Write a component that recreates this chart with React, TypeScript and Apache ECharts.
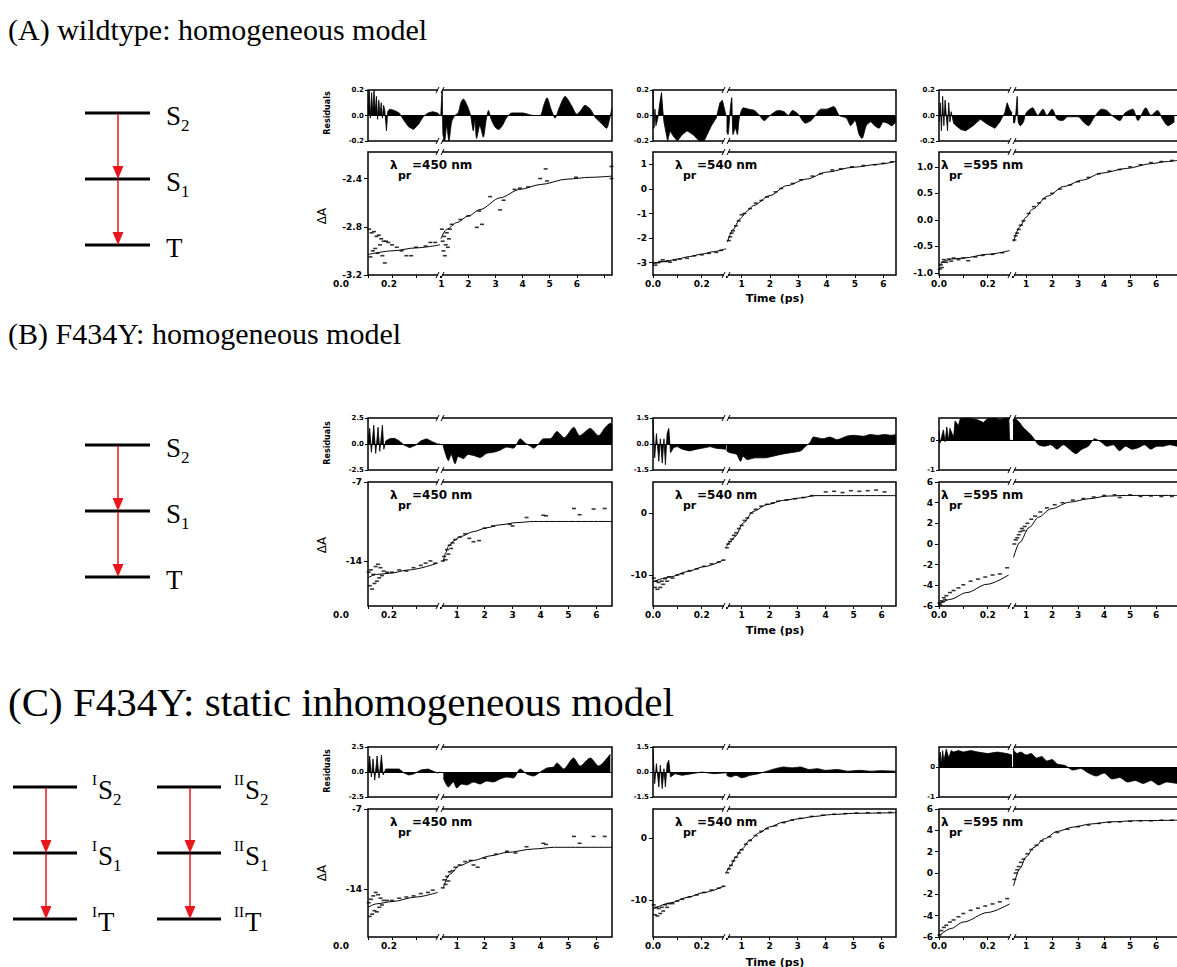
import React, { useEffect, useRef } from "react";
import * as echarts from "echarts";

// ---------------- DATA (time in ps, residuals, fits, measured points) ----------------
const resA1 = [[0,0.05],[0.005,0.2],[0.01,-0.02],[0.015,0.18],[0.02,0.02],[0.025,0.2],[0.03,0.03],[0.035,0.15],[0.04,-0.03],[0.045,0.12],[0.05,0.0],[0.055,0.1],[0.06,-0.02],[0.065,0.08],[0.07,0.04],[0.077,-0.12],[0.082,0.03],[0.09,0.05],[0.11,0.04],[0.13,0.02],[0.15,-0.04],[0.17,-0.09],[0.19,-0.11],[0.21,-0.07],[0.23,-0.01],[0.25,0.02],[0.27,0.03],[0.29,0.02],[0.3,0.0],
  [0.98,0.0],[1.03,0.2],[1.06,-0.15],[1.12,-0.2],[1.2,-0.08],[1.28,-0.2],[1.38,-0.05],[1.5,0.0],[1.62,0.02],[1.72,0.1],[1.81,0.13],[1.95,0.08],[2.08,0.0],[2.18,-0.12],[2.24,-0.03],[2.3,-0.18],[2.42,-0.08],[2.55,-0.17],[2.65,-0.04],[2.74,0.04],[2.84,-0.03],[2.98,-0.09],[3.11,-0.11],[3.25,-0.08],[3.4,-0.02],[3.6,0.02],[4.0,0.02],[4.4,0.0],[4.65,0.0],[4.78,0.08],[4.9,0.14],[5.05,0.05],[5.2,-0.02],[5.35,0.06],[5.57,0.15],[5.8,0.08],[6.0,0.01],[6.15,0.04],[6.3,0.08],[6.5,0.05],[6.7,-0.02],[6.9,-0.06],[7.1,-0.1],[7.2,-0.04],[7.3,0.06]];
const fitA1 = [[0,-3.03],[0.1,-3.0],[0.2,-2.975],[0.3,-2.95],
  [0.98,-2.9],[1.2,-2.82],[1.57,-2.765],[2.0,-2.71],[2.43,-2.657],[3.17,-2.56],[3.9,-2.49],[4.65,-2.45],[5.64,-2.405],[6.5,-2.39],[7.3,-2.38]];
const ptsA1 = [[0.005,-2.82],[0.01,-3.05],[0.015,-2.85],[0.02,-3.0],[0.025,-2.84],[0.03,-2.98],[0.035,-2.88],[0.04,-3.02],[0.045,-2.87],[0.05,-2.95],[0.055,-2.9],[0.06,-3.04],[0.065,-2.92],[0.07,-3.1],[0.075,-2.92],[0.085,-2.93],[0.1,-2.95],[0.12,-2.97],[0.14,-3.0],[0.16,-3.04],[0.18,-3.04],[0.2,-2.97],[0.24,-2.96],[0.26,-2.93],[0.28,-2.93],
  [1.02,-2.82],[1.05,-2.92],[1.08,-3.0],[1.1,-2.88],[1.13,-3.04],[1.16,-2.95],[1.2,-2.85],[1.24,-2.97],[1.28,-2.9],[1.32,-2.82],[1.38,-2.78],[1.7,-2.74],[2.0,-2.71],[2.31,-2.805],[2.4,-2.67],[2.5,-2.78],[2.8,-2.55],[3.17,-2.66],[3.3,-2.58],[3.7,-2.49],[3.9,-2.48],[4.2,-2.47],[4.65,-2.4],[4.85,-2.32],[4.9,-2.42],[5.97,-2.39],[7.28,-2.3],[7.28,-2.4]];

const resA2 = [[0,0.2],[0.004,-0.1],[0.008,0.05],[0.012,-0.08],[0.02,-0.02],[0.028,0.1],[0.035,0.18],[0.04,0.05],[0.045,-0.05],[0.06,-0.2],[0.07,-0.12],[0.083,-0.16],[0.1,-0.2],[0.12,-0.15],[0.14,-0.12],[0.165,-0.15],[0.19,-0.2],[0.21,-0.2],[0.24,-0.08],[0.26,-0.02],[0.275,0.1],[0.285,0.12],[0.3,0.0],
  [0.47,-0.12],[0.52,-0.15],[0.6,0.05],[0.65,0.14],[0.7,-0.15],[0.78,-0.1],[0.85,-0.15],[0.92,-0.02],[1.06,0.06],[1.25,0.05],[1.45,0.04],[1.6,0.01],[1.8,-0.04],[2.0,0.0],[2.3,0.04],[2.5,0.03],[2.65,0.0],[2.8,0.04],[3.0,0.01],[3.25,-0.06],[3.45,-0.04],[3.6,0.0],[3.8,0.05],[4.0,0.05],[4.25,0.07],[4.45,0.0],[4.7,-0.02],[4.85,-0.08],[5.0,-0.04],[5.15,-0.15],[5.25,-0.18],[5.4,-0.08],[5.55,-0.05],[5.7,-0.08],[5.85,-0.1],[6.0,-0.05],[6.15,-0.06],[6.3,-0.08],[6.45,-0.05]];
const fitA2 = [[0,-3.04],[0.05,-2.95],[0.1,-2.85],[0.15,-2.75],[0.2,-2.65],[0.25,-2.55],[0.3,-2.43],
  [0.5,-2.16],[0.7,-1.65],[0.94,-1.22],[1.2,-0.9],[1.41,-0.68],[2.0,-0.27],[2.59,0.13],[3.29,0.4],[4.0,0.68],[4.94,0.88],[5.88,1.01],[6.45,1.12]];
const ptsA2 = [[0.005,-3.0],[0.01,-3.1],[0.02,-3.0],[0.03,-2.95],[0.04,-2.88],[0.05,-2.95],[0.06,-2.93],[0.07,-2.98],[0.09,-2.9],[0.11,-2.85],[0.14,-2.82],[0.17,-2.72],[0.2,-2.68],[0.23,-2.62],[0.26,-2.58],[0.28,-2.5],
  [0.55,-2.1],[0.6,-1.95],[0.65,-1.8],[0.7,-1.7],[0.8,-1.5],[0.9,-1.3],[1.0,-1.05],[1.1,-1.0],[1.3,-0.8],[1.5,-0.58],[1.7,-0.47],[1.9,-0.33],[2.2,-0.12],[2.4,0.02],[2.8,0.22],[3.1,0.37],[3.5,0.52],[3.8,0.62],[4.2,0.77],[4.5,0.82],[4.9,0.9],[5.3,0.95],[5.7,0.98],[6.0,1.04],[6.3,1.1]];

const resA3 = [[0,-0.05],[0.005,0.1],[0.01,-0.12],[0.015,0.15],[0.02,-0.08],[0.025,0.12],[0.03,0.0],[0.035,-0.12],[0.04,0.1],[0.045,-0.05],[0.05,0.03],[0.06,-0.06],[0.07,-0.08],[0.09,-0.11],[0.11,-0.12],[0.14,-0.08],[0.17,-0.03],[0.2,-0.07],[0.23,-0.1],[0.25,-0.05],[0.27,0.02],[0.28,0.1],[0.29,0.05],[0.3,0.02],
  [0.5,-0.05],[0.55,-0.06],[0.6,0.0],[0.66,0.15],[0.7,-0.05],[0.78,-0.08],[0.9,-0.05],[1.0,0.02],[1.25,0.06],[1.45,0.0],[1.65,0.05],[1.8,0.0],[2.0,0.05],[2.2,-0.03],[2.4,-0.04],[2.6,-0.01],[3.0,-0.01],[3.2,-0.05],[3.4,-0.08],[3.6,-0.02],[3.9,0.05],[4.1,0.04],[4.3,0.0],[4.6,-0.04],[4.8,0.02],[5.1,0.05],[5.3,-0.04],[5.6,0.06],[5.8,0.0],[6.05,0.04],[6.25,-0.03],[6.45,-0.08],[6.7,-0.05]];
const fitA3 = [[0,-0.87],[0.02,-0.78],[0.05,-0.74],[0.1,-0.72],[0.2,-0.65],[0.29,-0.58],
  [0.52,-0.41],[0.76,-0.13],[1.0,0.05],[1.24,0.2],[1.84,0.45],[2.45,0.63],[3.17,0.75],[3.89,0.88],[4.86,0.97],[5.8,1.06],[6.42,1.1],[6.8,1.12]];
const ptsA3 = [[0.003,-0.93],[0.008,-0.85],[0.012,-0.9],[0.016,-0.8],[0.02,-0.75],[0.03,-0.8],[0.04,-0.74],[0.05,-0.78],[0.06,-0.72],[0.08,-0.75],[0.1,-0.72],[0.12,-0.77],[0.15,-0.7],[0.18,-0.67],[0.22,-0.65],[0.26,-0.62],
  [0.55,-0.38],[0.6,-0.3],[0.66,-0.25],[0.72,-0.18],[0.8,-0.1],[0.9,-0.02],[1.1,0.12],[1.3,0.25],[1.5,0.32],[1.7,0.4],[2.0,0.5],[2.3,0.58],[2.7,0.66],[3.0,0.72],[3.4,0.8],[3.8,0.87],[4.2,0.92],[4.6,0.95],[5.0,1.0],[5.4,1.04],[5.8,1.08],[6.2,1.1],[6.6,1.12]];

const resB1 = [[0,0.2],[0.007,1.5],[0.014,-0.8],[0.024,1.8],[0.032,-0.9],[0.042,1.6],[0.049,-0.7],[0.06,1.8],[0.066,-0.5],[0.074,0.3],[0.09,0.5],[0.11,0.55],[0.13,0.3],[0.15,-0.1],[0.174,-0.35],[0.2,-0.1],[0.22,0.3],[0.244,0.5],[0.27,0.2],[0.29,0.0],[0.3,0.0],
  [0.5,0.0],[0.58,-0.8],[0.7,-1.6],[0.8,-1.0],[0.94,-1.9],[1.05,-1.2],[1.24,-1.4],[1.4,-1.0],[1.6,-1.1],[1.84,-1.3],[2.07,-0.9],[2.31,-0.8],[2.55,-0.6],[2.79,-0.3],[3.03,-0.4],[3.15,0.0],[3.27,0.5],[3.45,0.1],[3.63,-0.2],[3.75,-0.4],[3.93,0.0],[4.1,0.5],[4.35,0.5],[4.59,1.2],[4.85,0.6],[5.19,1.6],[5.4,0.8],[5.78,1.5],[6.08,0.8],[6.32,1.6],[6.5,2.0],[6.56,1.8]];
const fitB1 = [[0,-15.5],[0.035,-15.2],[0.09,-15.1],[0.17,-14.8],[0.29,-14.2],
  [0.52,-14.06],[0.6,-13.3],[0.7,-12.7],[0.9,-12.2],[1.12,-11.85],[1.6,-11.4],[2.07,-11.06],[2.55,-10.8],[3.15,-10.6],[3.75,-10.5],[6.56,-10.5]];
const ptsB1 = [[0.003,-15.0],[0.007,-16.2],[0.012,-14.8],[0.017,-16.5],[0.022,-15.2],[0.027,-16.0],[0.032,-14.5],[0.037,-15.8],[0.042,-14.3],[0.047,-15.5],[0.052,-14.6],[0.058,-15.3],[0.065,-14.9],[0.08,-15.0],[0.1,-15.0],[0.13,-14.8],[0.16,-14.9],[0.19,-14.6],[0.22,-14.4],[0.24,-14.2],[0.26,-14.0],[0.28,-14.2],
  [0.5,-14.0],[0.55,-13.6],[0.6,-13.9],[0.65,-13.0],[0.7,-13.4],[0.75,-12.6],[0.8,-12.9],[0.85,-12.4],[0.95,-12.1],[1.1,-11.9],[1.3,-11.6],[1.45,-12.0],[1.6,-12.3],[1.8,-12.2],[2.0,-11.1],[2.3,-10.9],[2.9,-10.75],[3.0,-10.9],[3.5,-10.15],[4.1,-9.95],[4.2,-10.0],[5.2,-9.35],[5.4,-9.9],[5.9,-9.4],[6.3,-9.35]];

const resB2 = [[0,1.4],[0.007,-0.8],[0.014,0.6],[0.024,-1.0],[0.03,0.3],[0.038,-1.1],[0.045,0.3],[0.051,-1.2],[0.058,0.6],[0.065,0.9],[0.072,-0.5],[0.085,-0.2],[0.1,-0.15],[0.12,-0.3],[0.15,-0.4],[0.18,-0.3],[0.2,-0.25],[0.235,-0.15],[0.26,-0.25],[0.3,-0.3],
  [0.46,-0.4],[0.58,-0.5],[0.82,-0.6],[0.96,-1.0],[1.05,-0.7],[1.2,-0.9],[1.5,-0.8],[1.85,-0.8],[2.0,-0.75],[2.4,-0.6],[2.75,-0.5],[3.1,-0.4],[3.3,-0.1],[3.45,0.1],[3.56,0.4],[3.9,0.3],[4.15,0.4],[4.4,0.25],[4.75,0.45],[5.0,0.5],[5.35,0.45],[5.6,0.55],[5.85,0.5],[6.1,0.55],[6.35,0.5],[6.51,0.55]];
const fitB2 = [[0,-11.1],[0.072,-10.3],[0.14,-9.46],[0.21,-8.65],[0.29,-7.57],
  [0.46,-5.4],[0.6,-4.6],[0.76,-3.8],[1.06,-1.6],[1.42,0.27],[1.9,1.35],[2.5,2.05],[3.1,2.43],[3.62,2.8],[6.51,2.8]];
const ptsB2 = [[0.003,-10.5],[0.008,-12.0],[0.013,-11.0],[0.018,-12.3],[0.023,-11.2],[0.03,-12.0],[0.036,-11.0],[0.042,-11.5],[0.05,-10.6],[0.058,-11.0],[0.066,-10.3],[0.08,-10.5],[0.1,-10.0],[0.12,-9.8],[0.15,-9.3],[0.18,-9.0],[0.21,-8.6],[0.24,-8.2],[0.27,-7.9],[0.29,-7.6],
  [0.47,-5.6],[0.52,-5.0],[0.58,-4.6],[0.65,-4.2],[0.72,-3.6],[0.8,-3.2],[0.9,-2.5],[1.0,-2.0],[1.1,-1.2],[1.2,-0.8],[1.35,0.0],[1.5,0.6],[1.7,1.1],[1.9,1.4],[2.1,1.6],[2.3,1.9],[2.6,2.1],[2.9,2.3],[3.2,2.5],[3.5,2.8],[4.0,3.4],[4.3,3.5],[4.6,3.3],[4.9,3.6],[5.2,3.5],[5.5,3.6],[5.8,3.7],[6.1,3.4]];

const resB3 = [[0,0.3],[0.004,-0.1],[0.018,0.35],[0.025,-0.05],[0.032,0.45],[0.039,0.0],[0.045,0.4],[0.06,0.1],[0.066,0.65],[0.08,0.5],[0.087,0.72],[0.115,0.75],[0.155,0.7],[0.183,0.6],[0.197,0.72],[0.225,0.75],[0.25,0.7],[0.28,0.75],[0.287,0.75],[0.29,0.0],[0.3,0.0],
  [0.5,0.75],[0.63,0.7],[0.75,0.6],[0.87,0.45],[0.99,0.35],[1.17,0.2],[1.35,0.0],[1.47,-0.15],[1.71,-0.2],[1.95,-0.15],[2.19,-0.3],[2.43,-0.15],[2.67,-0.3],[2.91,-0.45],[3.15,-0.3],[3.39,-0.2],[3.63,0.05],[3.87,-0.05],[4.11,-0.2],[4.35,-0.15],[4.59,-0.35],[4.83,-0.2],[5.07,-0.3],[5.31,-0.25],[5.55,-0.15],[5.79,-0.3],[6.03,-0.2],[6.27,-0.2],[6.5,-0.15],[6.8,-0.2]];
const fitB3 = [[0,-5.85],[0.045,-5.36],[0.114,-4.7],[0.197,-3.9],[0.286,-3.0],
  [0.52,-1.3],[0.76,0.16],[1.12,1.6],[1.48,2.6],[1.96,3.4],[2.68,4.05],[3.41,4.38],[4.13,4.64],[4.86,4.7],[6.8,4.7]];
const ptsB3 = [[0.002,-5.7],[0.005,-5.9],[0.01,-5.5],[0.015,-5.6],[0.02,-5.2],[0.025,-5.4],[0.03,-5.0],[0.045,-4.7],[0.06,-4.5],[0.08,-4.25],[0.1,-3.95],[0.13,-3.6],[0.16,-3.4],[0.19,-3.2],[0.22,-3.0],[0.25,-2.9],[0.28,-2.3],
  [0.55,0.0],[0.6,0.4],[0.66,0.6],[0.72,0.9],[0.78,1.2],[0.84,1.5],[0.9,1.3],[0.95,1.7],[1.05,2.0],[1.2,2.4],[1.35,2.7],[1.55,3.1],[1.8,3.5],[2.1,3.8],[2.4,4.0],[2.8,4.25],[3.2,4.4],[3.6,4.55],[4.0,4.7],[4.4,4.75],[4.6,4.5],[5.0,4.75],[5.4,4.6],[5.8,4.65],[6.2,4.6],[6.6,4.6]];

const resC1 = [[0,0.0],[0.007,1.6],[0.014,-0.5],[0.021,1.3],[0.028,-0.8],[0.038,1.6],[0.046,-0.6],[0.056,1.7],[0.063,-0.3],[0.074,0.3],[0.09,0.3],[0.13,0.3],[0.15,-0.1],[0.17,-0.3],[0.19,-0.2],[0.22,0.2],[0.25,0.3],[0.27,0.1],[0.29,-0.1],[0.3,0.0],
  [0.52,-0.6],[0.7,-1.5],[0.88,-1.0],[1.0,-1.6],[1.18,-1.2],[1.36,-1.3],[1.6,-1.0],[1.84,-1.2],[2.07,-0.9],[2.31,-1.0],[2.55,-0.7],[2.79,-0.5],[3.03,-0.6],[3.27,0.3],[3.51,-0.2],[3.75,-0.4],[3.99,0.0],[4.23,0.4],[4.47,0.5],[4.59,0.9],[4.83,0.3],[5.18,1.4],[5.42,0.6],[5.78,1.4],[6.08,0.6],[6.5,1.8]];
const fitC1 = [[0,-15.6],[0.035,-15.3],[0.1,-15.1],[0.2,-14.7],[0.29,-14.3],
  [0.52,-13.85],[0.75,-12.7],[1.1,-11.96],[1.6,-11.5],[2.2,-11.1],[2.8,-10.8],[3.75,-10.5],[4.5,-10.35],[6.56,-10.35]];
const ptsC1 = [[0.003,-15.2],[0.007,-16.4],[0.012,-14.9],[0.017,-16.2],[0.022,-14.6],[0.027,-15.9],[0.032,-14.3],[0.037,-16.0],[0.042,-14.5],[0.047,-15.6],[0.052,-14.8],[0.058,-15.4],[0.065,-15.0],[0.08,-15.0],[0.1,-15.0],[0.13,-14.8],[0.16,-14.7],[0.19,-14.6],[0.22,-14.4],[0.25,-14.3],[0.27,-14.1],
  [0.5,-13.9],[0.55,-13.2],[0.6,-13.6],[0.65,-12.9],[0.7,-13.3],[0.75,-12.5],[0.85,-12.4],[0.95,-12.1],[1.1,-11.9],[1.3,-11.6],[1.5,-11.5],[1.6,-11.9],[1.75,-12.1],[2.0,-11.3],[2.4,-10.95],[2.8,-10.7],[3.1,-10.85],[3.5,-10.3],[4.1,-10.0],[4.2,-10.1],[5.2,-9.4],[5.4,-10.0],[5.9,-9.4],[6.3,-9.4]];

const resC2 = [[0,1.3],[0.007,-0.7],[0.014,0.5],[0.024,-0.9],[0.03,0.4],[0.038,-1.0],[0.045,0.2],[0.051,-0.9],[0.058,0.5],[0.065,0.7],[0.072,-0.3],[0.09,-0.1],[0.12,-0.2],[0.16,-0.1],[0.2,0.0],[0.25,-0.1],[0.3,-0.05],
  [0.46,-0.2],[0.6,-0.3],[0.8,-0.2],[1.0,-0.35],[1.3,-0.2],[1.6,-0.1],[1.9,0.05],[2.2,0.2],[2.5,0.3],[2.8,0.25],[3.1,0.3],[3.4,0.15],[3.7,0.2],[4.0,0.1],[4.4,0.15],[4.8,0.05],[5.2,0.1],[5.6,0.05],[6.0,0.08],[6.5,0.05]];
const fitC2 = [[0,-11.5],[0.07,-10.5],[0.14,-9.6],[0.21,-8.8],[0.29,-7.8],
  [0.46,-5.5],[0.6,-4.5],[0.8,-3.0],[1.0,-1.8],[1.3,-0.3],[1.6,0.8],[2.0,1.8],[2.5,2.6],[3.0,3.1],[3.6,3.5],[4.2,3.8],[5.0,4.0],[6.51,4.1]];
const ptsC2 = [[0.003,-10.8],[0.008,-12.4],[0.013,-11.2],[0.018,-12.6],[0.023,-11.4],[0.03,-12.2],[0.036,-11.2],[0.042,-11.8],[0.05,-10.8],[0.058,-11.2],[0.066,-10.6],[0.08,-10.6],[0.1,-10.2],[0.12,-9.9],[0.15,-9.5],[0.18,-9.2],[0.21,-8.8],[0.24,-8.4],[0.27,-8.1],[0.29,-7.8],
  [0.48,-5.6],[0.55,-5.0],[0.62,-4.4],[0.7,-3.7],[0.8,-3.1],[0.9,-2.4],[1.0,-1.9],[1.15,-1.0],[1.3,-0.4],[1.5,0.4],[1.7,1.1],[1.9,1.5],[2.2,2.0],[2.5,2.5],[2.8,2.9],[3.1,3.2],[3.5,3.5],[3.9,3.7],[4.3,3.85],[4.7,3.95],[5.1,4.05],[5.5,4.1],[5.9,4.1],[6.3,4.15]];

const resC3 = [[0,0.2],[0.005,0.5],[0.01,0.1],[0.015,0.55],[0.02,0.2],[0.03,0.6],[0.04,0.3],[0.05,0.55],[0.06,0.5],[0.08,0.55],[0.1,0.5],[0.13,0.55],[0.16,0.5],[0.2,0.45],[0.24,0.5],[0.28,0.45],[0.3,0.4],
  [0.5,0.6],[0.65,0.45],[0.8,0.5],[1.0,0.4],[1.2,0.45],[1.4,0.3],[1.6,0.35],[1.8,0.2],[2.0,0.25],[2.2,0.1],[2.5,0.05],[2.8,-0.1],[3.1,-0.05],[3.4,-0.2],[3.7,-0.3],[4.0,-0.2],[4.3,-0.4],[4.6,-0.35],[4.9,-0.5],[5.2,-0.45],[5.5,-0.55],[5.8,-0.45],[6.1,-0.6],[6.4,-0.5],[6.8,-0.55]];
const fitC3 = [[0,-5.9],[0.05,-5.2],[0.1,-4.6],[0.2,-3.7],[0.29,-2.9],
  [0.52,-1.2],[0.76,0.4],[1.0,1.5],[1.3,2.4],[1.7,3.2],[2.2,3.9],[2.8,4.3],[3.5,4.6],[4.3,4.8],[5.2,4.9],[6.8,4.95]];
const ptsC3 = [[0.002,-5.8],[0.01,-5.4],[0.02,-5.1],[0.03,-4.9],[0.045,-4.6],[0.06,-4.4],[0.08,-4.1],[0.1,-3.8],[0.13,-3.5],[0.16,-3.3],[0.19,-3.1],[0.22,-2.9],[0.25,-2.7],[0.28,-2.4],
  [0.55,-0.6],[0.6,0.0],[0.66,0.3],[0.72,0.6],[0.8,1.0],[0.9,1.3],[1.05,1.8],[1.2,2.2],[1.4,2.6],[1.6,3.0],[1.9,3.4],[2.2,3.8],[2.6,4.1],[3.0,4.35],[3.4,4.5],[3.8,4.65],[4.2,4.75],[4.6,4.8],[5.0,4.85],[5.4,4.9],[5.8,4.9],[6.2,4.95],[6.6,4.95]];

const residuals = [resA1, resA2, resA3, resB1, resB2, resB3, resC1, resC2, resC3];
const fits = [fitA1, fitA2, fitA3, fitB1, fitB2, fitB3, fitC1, fitC2, fitC3];
const points = [ptsA1, ptsA2, ptsA3, ptsB1, ptsB2, ptsB3, ptsC1, ptsC2, ptsC3];

const probeWavelength = [450, 540, 595, 450, 540, 595, 450, 540, 595];
const leftTimeRange = [0, 0.3];
const rightTimeRange = [[0.95, 7.3], [0.45, 6.45], [0.46, 6.8], [0.4, 6.56], [0.44, 6.51], [0.46, 6.8], [0.4, 6.56], [0.44, 6.51], [0.46, 6.8]];
const leftTimeTicks = [0, 0.1, 0.2, 0.3];
const leftTimeLabels = [0, 0.2];
const rightTimeTicks = [1, 2, 3, 4, 5, 6, 7];
const rightTimeLabels = [1, 2, 3, 4, 5, 6];
const residualRange = [[-0.2, 0.2], [-0.2, 0.2], [-0.2, 0.2], [-2.5, 2.5], [-1.5, 1.5], [-1, 0.75], [-2.5, 2.5], [-1.5, 1.5], [-1, 0.67]];
const residualLabels = [[-0.2, 0, 0.2], [-0.2, 0, 0.2], [-0.2, 0, 0.2], [-2.5, 0, 2.5], [-1.5, 0, 1.5], [-1, 0], [-2.5, 0, 2.5], [-1.5, 0, 1.5], [-1, 0]];
const residualDecimals = [1, 1, 1, 1, 1, 0, 1, 1, 0];
const signalRange = [[-3.2, -2.18], [-3.5, 1.5], [-1.04, 1.28], [-18, -7], [-15, 5], [-6, 6], [-18.2, -7], [-16, 4.7], [-6, 6]];
const signalLabels = [[-3.2, -2.8, -2.4], [-3, -2, -1, 0, 1], [-1, -0.5, 0, 0.5, 1], [-14, -7], [-10, 0], [-6, -4, -2, 0, 2, 4, 6], [-14, -7], [-10, 0], [-6, -4, -2, 0, 2, 4, 6]];
const signalDecimals = [1, 0, 1, 0, 0, 0, 0, 0, 0];
const rowTitles = ["(A) wildtype: homogeneous model", "(B) F434Y: homogeneous model", "(C) F434Y: static inhomogeneous model"];
const stateNames = [["S", "2"], ["S", "1"], ["T", ""]];

// ---------------- LAYOUT ----------------
const COLS = [
  { x: 368, brk: 440, right: 612, lamDx: 22, leftShift: 27 },
  { x: 653, brk: 726, right: 896, lamDx: 22, leftShift: 0 },
  { x: 939, brk: 1012, right: 1182, lamDx: 2, leftShift: 0 },
];
const ROWS = [
  { title: 29, titleSize: 30, resTop: 90, resH: 51, mainTop: 152, mainH: 123, timeY: 298, levels: [113, 179, 245], resLabY: 113, dALabY: 216 },
  { title: 333, titleSize: 30, resTop: 418, resH: 52, mainTop: 482, mainH: 124, timeY: 630, levels: [445, 511, 577], resLabY: 443, dALabY: 545 },
  { title: 702, titleSize: 41, resTop: 747, resH: 50, mainTop: 809, mainH: 128, timeY: 962, levels: [787, 853, 919], resLabY: 771, dALabY: 873 },
];
const DIAGRAMS = [
  [{ x0: 85, x1: 150, ax: 118, lx: 166, pre: "" }],
  [{ x0: 85, x1: 150, ax: 118, lx: 166, pre: "" }],
  [{ x0: 13, x1: 77, ax: 46, lx: 92, pre: "I" }, { x0: 157, x1: 221, ax: 190, lx: 234, pre: "II" }],
];

const AX_FONT = { fontFamily: "DejaVu Sans", fontWeight: "bold" as const, fontSize: 9, color: "#000" };
const RES_FONT = { fontFamily: "DejaVu Sans", fontWeight: "bold" as const, fontSize: 7, color: "#000" };
const SERIF = "Liberation Serif";
const RED = "#e8161e";

function buildOption() {
  const grid: any[] = [];
  const xAxis: any[] = [];
  const yAxis: any[] = [];
  const series: any[] = [];
  const graphic: any[] = [];

  probeWavelength.forEach((wl, p) => {
    const r = Math.floor(p / 3);
    const c = p % 3;
    const row = ROWS[r];
    const col = COLS[c];
    const parts = [
      { sig: false, side: 0 }, { sig: false, side: 1 },
      { sig: true, side: 0 }, { sig: true, side: 1 },
    ];
    parts.forEach((part) => {
      const g = grid.length;
      const left = part.side === 0 ? col.x : col.brk;
      const width = part.side === 0 ? col.brk - col.x : col.right - col.brk;
      const top = part.sig ? row.mainTop : row.resTop;
      const height = part.sig ? row.mainH : row.resH;
      grid.push({ left, top, width, height, show: false });
      const tr = part.side === 0 ? leftTimeRange : rightTimeRange[p];
      xAxis.push({
        type: "value", gridIndex: g, min: tr[0], max: tr[1], position: "bottom",
        axisLine: { show: false, onZero: false }, splitLine: { show: false },
        axisTick: { show: part.sig, length: 3, customValues: part.side === 0 ? leftTimeTicks : rightTimeTicks, lineStyle: { color: "#000", width: 1 } },
        axisLabel: {
          show: part.sig, margin: 4, ...AX_FONT,
          customValues: part.side === 0 ? leftTimeLabels : rightTimeLabels,
          formatter: (v: number) => (part.side === 0 ? v.toFixed(1) : String(Math.round(v))),
          padding: part.side === 0 && col.leftShift ? [0, col.leftShift * 2, 0, 0] : 0,
        },
      });
      const yr = part.sig ? signalRange[p] : residualRange[p];
      const yl = part.sig ? signalLabels[p] : residualLabels[p];
      const dec = part.sig ? signalDecimals[p] : residualDecimals[p];
      yAxis.push({
        type: "value", gridIndex: g, min: yr[0], max: yr[1], show: part.side === 0, position: "left",
        axisLine: { show: false, onZero: false }, splitLine: { show: false },
        axisTick: { show: true, length: part.sig ? 4 : 3, customValues: yl, lineStyle: { color: "#000", width: 1 } },
        axisLabel: { customValues: yl, margin: part.sig ? 6 : 4, ...(part.sig ? AX_FONT : RES_FONT), formatter: (v: number) => v.toFixed(dec) },
      });
      const keep = (arr: number[][]) => arr.filter((d) => (part.side === 0 ? d[0] <= 0.35 : d[0] > 0.35));
      if (!part.sig) {
        series.push({
          type: "line", xAxisIndex: g, yAxisIndex: g, data: keep(residuals[p]), symbol: "none",
          smooth: part.side === 1 ? 0.25 : false,
          lineStyle: { color: "#000", width: 0.8 }, areaStyle: { color: "#000", opacity: 1 },
          markLine: { silent: true, symbol: "none", label: { show: false }, lineStyle: { color: "#000", width: 1, type: "solid" }, data: [{ yAxis: 0 }] },
        });
      } else {
        series.push({
          type: "line", xAxisIndex: g, yAxisIndex: g, data: keep(fits[p]), symbol: "none",
          smooth: 0.3, smoothMonotone: "x", lineStyle: { color: "#000", width: 1 },
        });
        series.push({
          type: "scatter", xAxisIndex: g, yAxisIndex: g, data: keep(points[p]),
          symbol: "rect", symbolSize: [4, 1.6], itemStyle: { color: "#000" },
        });
      }
    });

    // frames and axis-break marks
    [[row.resTop, row.resH], [row.mainTop, row.mainH]].forEach(([t, h]) => {
      graphic.push({ type: "rect", z: 50, shape: { x: col.x, y: t, width: col.right - col.x, height: h }, style: { fill: "none", stroke: "#000", lineWidth: 1.5 } });
      [t, t + h].forEach((yy) => {
        graphic.push({ type: "rect", z: 51, shape: { x: col.brk - 2, y: yy - 1, width: 4, height: 2 }, style: { fill: "#fff" } });
        graphic.push({ type: "line", z: 52, shape: { x1: col.brk - 4, y1: yy + 3, x2: col.brk - 1, y2: yy - 3 }, style: { stroke: "#000", lineWidth: 1 } });
        graphic.push({ type: "line", z: 52, shape: { x1: col.brk + 1, y1: yy + 3, x2: col.brk + 4, y2: yy - 3 }, style: { stroke: "#000", lineWidth: 1 } });
      });
    });

    // probe wavelength label: lambda with subscript "pr"
    const lx = col.x + col.lamDx;
    const ly = row.mainTop + 13;
    const lamFont = { fontFamily: "DejaVu Sans", fontWeight: "bold", fill: "#000", align: "left", verticalAlign: "middle" };
    graphic.push({ type: "text", z: 60, x: lx, y: ly, style: { ...lamFont, text: "λ", fontSize: 12 } });
    graphic.push({ type: "text", z: 60, x: lx + 8, y: ly + 10, style: { ...lamFont, text: "pr", fontSize: 11 } });
    graphic.push({ type: "text", z: 60, x: lx + 22, y: ly, style: { ...lamFont, text: `=${wl} nm`, fontSize: 12 } });
  });

  ROWS.forEach((row, r) => {
    graphic.push({ type: "text", x: 8, y: row.title, style: { text: rowTitles[r], fontFamily: SERIF, fontSize: row.titleSize, fill: "#000", verticalAlign: "middle", align: "left" } });
    graphic.push({ type: "text", x: 327, y: row.resLabY, rotation: Math.PI / 2, style: { text: "Residuals", fontFamily: "DejaVu Sans", fontWeight: "bold", fontSize: 8, fill: "#000", align: "center", verticalAlign: "middle" } });
    graphic.push({ type: "text", x: 322, y: row.dALabY, rotation: Math.PI / 2, style: { text: "ΔA", fontFamily: "DejaVu Sans", fontSize: 12, fill: "#000", align: "center", verticalAlign: "middle" } });
    graphic.push({ type: "text", x: 775, y: row.timeY, style: { text: "Time (ps)", fontFamily: "DejaVu Sans", fontWeight: "bold", fontSize: 11, fill: "#000", align: "center", verticalAlign: "middle" } });

    // energy level diagrams
    DIAGRAMS[r].forEach((d) => {
      row.levels.forEach((ly, k) => {
        graphic.push({ type: "line", shape: { x1: d.x0, y1: ly, x2: d.x1, y2: ly }, style: { stroke: "#000", lineWidth: 3 } });
        if (k > 0) {
          const y0 = row.levels[k - 1];
          graphic.push({ type: "line", shape: { x1: d.ax, y1: y0 + 1, x2: d.ax, y2: ly - 10 }, style: { stroke: RED, lineWidth: 1.5 } });
          graphic.push({ type: "polygon", shape: { points: [[d.ax - 5.5, ly - 13], [d.ax + 5.5, ly - 13], [d.ax, ly]] }, style: { fill: RED } });
        }
        let x = d.lx;
        if (d.pre) {
          graphic.push({ type: "text", x, y: ly - 7, style: { text: d.pre, fontFamily: SERIF, fontSize: 15, fill: "#000", align: "left", verticalAlign: "middle" } });
          x += d.pre.length * 5 + 1;
        }
        const [main, sub] = stateNames[k];
        graphic.push({ type: "text", x, y: ly + 3, style: { text: main, fontFamily: SERIF, fontSize: 27, fill: "#000", align: "left", verticalAlign: "middle" } });
        if (sub) {
          graphic.push({ type: "text", x: x + 15, y: ly + 12, style: { text: sub, fontFamily: SERIF, fontSize: 17, fill: "#000", align: "left", verticalAlign: "middle" } });
        }
      });
    });
  });

  return {
    animation: false,
    backgroundColor: "#fff",
    textStyle: { fontFamily: "DejaVu Sans" },
    grid, xAxis, yAxis, series, graphic,
  };
}

export default function App() {
  const ref = useRef<HTMLDivElement>(null);
  useEffect(() => {
    if (!ref.current) return;
    const chart = echarts.init(ref.current, undefined, { renderer: "svg" });
    chart.setOption(buildOption() as any);
    return () => chart.dispose();
  }, []);
  return <div ref={ref} style={{ position: "absolute", left: 0, top: 0, width: 1177, height: 967, background: "#fff" }} />;
}
